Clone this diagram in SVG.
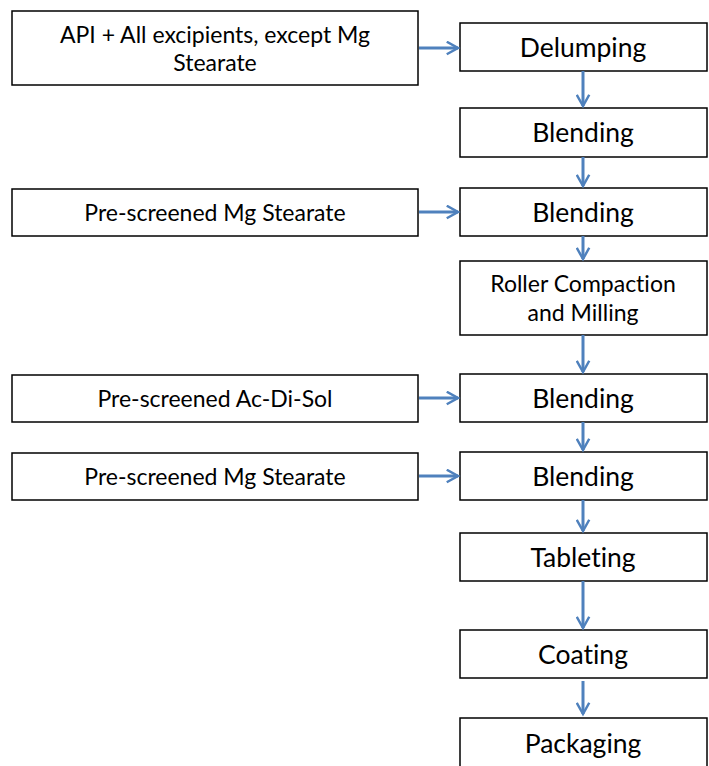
<svg xmlns="http://www.w3.org/2000/svg" width="709" height="766" viewBox="0 0 709 766">
<style>
.box{fill:#fff;stroke:#000;stroke-width:1.5}
.t{font-family:"Lato","Liberation Sans",sans-serif;fill:#000;text-anchor:middle;dominant-baseline:central;font-variant-ligatures:none}
.big{font-size:26.5px}
.sm{font-size:23px}
.c{stroke:#4F81BD;stroke-width:3;fill:none;marker-end:url(#ah)}
</style>
<defs>
<marker id="ah" viewBox="0 0 12 12" refX="10" refY="6" markerWidth="5" markerHeight="5" orient="auto" markerUnits="strokeWidth">
<path d="M1,1 L10,6 L1,11" fill="none" stroke="#4F81BD" stroke-width="2" stroke-linejoin="miter"/>
</marker>
</defs>
<rect width="709" height="766" fill="#fff"/>
<g id="in1"><rect class="box" x="12" y="11" width="406" height="74"/><text class="t sm" x="215" y="34">API + All excipients, except Mg</text><text class="t sm" x="215" y="62">Stearate</text></g>
<g id="in2"><rect class="box" x="12" y="189" width="406" height="47"/><text class="t sm" x="215" y="212">Pre-screened Mg Stearate</text></g>
<g id="in3"><rect class="box" x="12" y="375" width="406" height="47"/><text class="t sm" x="215" y="398">Pre-screened Ac-Di-Sol</text></g>
<g id="in4"><rect class="box" x="12" y="453" width="406" height="47"/><text class="t sm" x="215" y="476">Pre-screened Mg Stearate</text></g>
<g id="delumping"><rect class="box" x="460" y="23" width="247" height="48"/><text class="t big" x="583" y="47">Delumping</text></g>
<g id="blend1"><rect class="box" x="460" y="108" width="247" height="49"/><text class="t big" x="583" y="132">Blending</text></g>
<g id="blend2"><rect class="box" x="460" y="188" width="247" height="48"/><text class="t big" x="583" y="212">Blending</text></g>
<g id="roller"><rect class="box" x="460" y="261" width="247" height="74"/><text class="t sm" x="583" y="283">Roller Compaction</text><text class="t sm" x="583" y="312">and Milling</text></g>
<g id="blend3"><rect class="box" x="460" y="374" width="247" height="48"/><text class="t big" x="583" y="398">Blending</text></g>
<g id="blend4"><rect class="box" x="460" y="452" width="247" height="48"/><text class="t big" x="583" y="476">Blending</text></g>
<g id="tableting"><rect class="box" x="460" y="533" width="247" height="48"/><text class="t big" x="583" y="557">Tableting</text></g>
<g id="coating"><rect class="box" x="460" y="630" width="247" height="48"/><text class="t big" x="583" y="654">Coating</text></g>
<g id="packaging"><rect class="box" x="460" y="718" width="247" height="50"/><text class="t big" x="583" y="743">Packaging</text></g>
<g id="connectors">
<line class="c" x1="419" y1="48" x2="458" y2="48"/>
<line class="c" x1="419" y1="212" x2="458" y2="212"/>
<line class="c" x1="419" y1="398" x2="458" y2="398"/>
<line class="c" x1="419" y1="476" x2="458" y2="476"/>
<line class="c" x1="583" y1="71" x2="583" y2="106"/>
<line class="c" x1="583" y1="157" x2="583" y2="186"/>
<line class="c" x1="583" y1="236" x2="583" y2="259"/>
<line class="c" x1="583" y1="335" x2="583" y2="372"/>
<line class="c" x1="583" y1="422" x2="583" y2="450"/>
<line class="c" x1="583" y1="500" x2="583" y2="531"/>
<line class="c" x1="583" y1="581" x2="583" y2="628"/>
<line class="c" x1="583" y1="681" x2="583" y2="714"/>
</g>
</svg>
